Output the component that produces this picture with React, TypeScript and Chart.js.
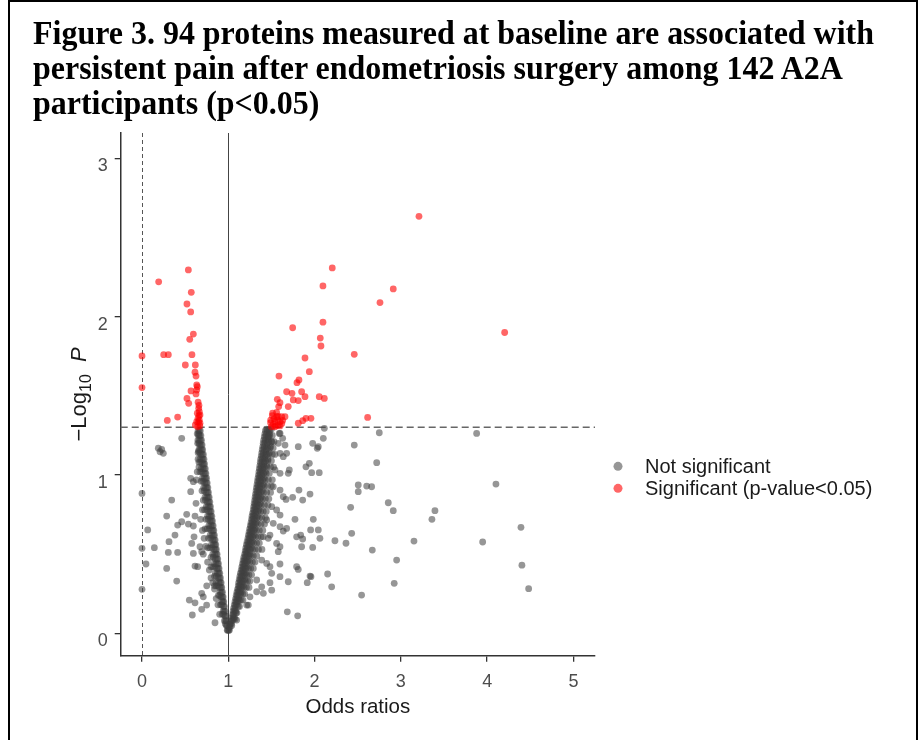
import React, { useEffect, useRef } from 'react';
import { Chart, registerables } from 'chart.js';

Chart.register(...registerables);

// ---------- text ----------
const titleLines = [
  'Figure 3. 94 proteins measured at baseline are associated with',
  'persistent pain after endometriosis surgery among 142 A2A',
  'participants (p<0.05)',
];
const xLabel = 'Odds ratios';
const legendLabels = ['Not significant', 'Significant (p-value<0.05)'];
const xTicks = [0, 1, 2, 3, 4, 5];
const yTicks = [0, 1, 2, 3];
const pThreshold = 0.05;
const orNull = 1;
const orZero = 0;

// ---------- data: [odds ratio, -log10 p] ----------
const sigLeft: [number, number][] = [
  [0.537, 2.295], [0.193, 2.22], [0.571, 2.154], [0.521, 2.08], [0.564, 2.03], [0.595, 1.89],
  [0.553, 1.857], [0.0, 1.752], [0.251, 1.76], [0.305, 1.76], [0.579, 1.76], [0.502, 1.695],
  [0.618, 1.695], [0.614, 1.649], [0.626, 1.625], [0.634, 1.569], [0.641, 1.558], [0.634, 1.537],
  [0.568, 1.531], [0.0, 1.552], [0.626, 1.512], [0.521, 1.484], [0.541, 1.453], [0.657, 1.421],
  [0.664, 1.40], [0.641, 1.39], [0.672, 1.379], [0.649, 1.358], [0.664, 1.347], [0.634, 1.337],
  [0.672, 1.327], [0.618, 1.316], [0.293, 1.345], [0.413, 1.366], [0.66, 1.44], [0.65, 1.46],
  [0.67, 1.31], [0.645, 1.305], [0.66, 1.375], [0.655, 1.335],
];
const sigRight: [number, number][] = [
  [3.21, 2.634], [2.205, 2.308], [2.097, 2.194], [2.912, 2.175], [2.758, 2.089], [4.203, 1.90],
  [2.097, 1.965], [1.746, 1.93], [2.066, 1.865], [2.074, 1.815], [2.46, 1.762], [1.889, 1.739],
  [1.939, 1.653], [1.587, 1.625], [1.819, 1.60], [1.796, 1.583], [1.676, 1.526], [1.738, 1.516],
  [1.85, 1.526], [1.889, 1.495], [2.054, 1.495], [2.113, 1.484], [1.753, 1.474], [1.811, 1.47],
  [1.568, 1.478], [1.599, 1.457], [1.584, 1.432], [1.695, 1.432], [1.514, 1.39], [1.561, 1.368],
  [1.491, 1.347], [1.619, 1.368], [1.657, 1.368], [1.541, 1.337], [1.599, 1.337], [1.579, 1.316],
  [1.811, 1.327], [1.862, 1.343], [1.90, 1.358], [1.958, 1.358], [2.615, 1.364], [1.50, 1.305],
  [1.52, 1.32], [1.55, 1.31], [1.53, 1.355], [1.57, 1.35], [1.60, 1.31], [1.62, 1.325],
  [1.49, 1.33], [1.51, 1.375], [1.56, 1.395], [1.63, 1.345], [1.54, 1.305], [1.58, 1.37],
];

// dense left arm of the V: [-log10 p, [odds ratios...]]
const leftArmRows: [number, number[]][] = [
  [0.02, [0.995, 0.988]], [0.05, [0.986, 0.978]], [0.08, [0.978, 0.968, 0.955]],
  [0.11, [0.97, 0.961]], [0.14, [0.963, 0.952, 0.94]], [0.17, [0.955, 0.945]],
  [0.20, [0.947, 0.937, 0.925]], [0.23, [0.94, 0.93, 0.915]], [0.26, [0.932, 0.921, 0.905]],
  [0.29, [0.924, 0.914, 0.898]], [0.32, [0.917, 0.906, 0.89, 0.86]], [0.35, [0.909, 0.898, 0.882]],
  [0.38, [0.901, 0.89, 0.874, 0.85]], [0.41, [0.893, 0.882, 0.866]], [0.44, [0.886, 0.875, 0.858, 0.835]],
  [0.47, [0.878, 0.867, 0.85]], [0.50, [0.87, 0.859, 0.842, 0.82]], [0.53, [0.862, 0.851, 0.835]],
  [0.56, [0.855, 0.844, 0.827, 0.805]], [0.59, [0.847, 0.836, 0.819]], [0.62, [0.839, 0.828, 0.811, 0.79]],
  [0.65, [0.832, 0.821, 0.804]], [0.68, [0.824, 0.813, 0.796, 0.775]], [0.71, [0.816, 0.805, 0.788]],
  [0.74, [0.809, 0.797, 0.78, 0.76]], [0.77, [0.801, 0.79, 0.773]], [0.80, [0.793, 0.782, 0.765, 0.745]],
  [0.83, [0.786, 0.774, 0.757]], [0.86, [0.778, 0.767, 0.75, 0.73]], [0.89, [0.77, 0.759, 0.742]],
  [0.92, [0.763, 0.751, 0.735, 0.715]], [0.95, [0.755, 0.744, 0.727]], [0.98, [0.748, 0.736, 0.72, 0.70]],
  [1.01, [0.74, 0.729, 0.712]], [1.04, [0.733, 0.721, 0.705, 0.685]], [1.07, [0.725, 0.714, 0.698]],
  [1.10, [0.718, 0.706, 0.69, 0.672]], [1.13, [0.711, 0.699, 0.683]], [1.16, [0.703, 0.692, 0.676, 0.66]],
  [1.19, [0.696, 0.685, 0.669]], [1.22, [0.689, 0.677, 0.662, 0.648]], [1.25, [0.682, 0.67, 0.656]],
  [1.28, [0.675, 0.664, 0.65]],
];
const leftArmOuterRows: [number, number[]][] = [
  [0.06, [0.965]], [0.12, [0.945, 0.93]], [0.18, [0.925, 0.91]], [0.24, [0.90, 0.885]],
  [0.30, [0.88, 0.86, 0.84]], [0.36, [0.86, 0.84]], [0.42, [0.845, 0.82, 0.80]], [0.48, [0.825, 0.80]],
  [0.54, [0.81, 0.785, 0.76]], [0.60, [0.795, 0.77]], [0.66, [0.78, 0.755, 0.73]], [0.72, [0.765, 0.74]],
  [0.78, [0.75, 0.725, 0.70]], [0.84, [0.735, 0.71]], [0.90, [0.72, 0.695]], [0.96, [0.705, 0.685]],
  [1.02, [0.69, 0.67]], [1.08, [0.68, 0.66]], [1.14, [0.67, 0.65]], [1.20, [0.66]], [1.26, [0.655]],
];

// dense right arm of the V
const rightArmRows: [number, number[]][] = [
  [0.02, [1.005, 1.012]], [0.04, [1.01, 1.02]], [0.06, [1.024, 1.035, 1.015]], [0.08, [1.03, 1.045]],
  [0.10, [1.042, 1.055, 1.07]], [0.12, [1.05, 1.062]], [0.14, [1.055, 1.07, 1.085]], [0.16, [1.062, 1.078]],
  [0.18, [1.07, 1.085, 1.10]], [0.20, [1.078, 1.092, 1.108]], [0.22, [1.085, 1.10, 1.12]],
  [0.24, [1.092, 1.106, 1.125]], [0.26, [1.10, 1.113, 1.13, 1.15]], [0.28, [1.108, 1.12, 1.14]],
  [0.30, [1.116, 1.13, 1.148, 1.17]], [0.32, [1.12, 1.136, 1.155]], [0.34, [1.127, 1.142, 1.16, 1.19]],
  [0.36, [1.134, 1.15, 1.17]], [0.38, [1.141, 1.157, 1.175, 1.20]], [0.40, [1.15, 1.165, 1.183]],
  [0.42, [1.157, 1.172, 1.19, 1.215]], [0.44, [1.165, 1.18, 1.198]], [0.46, [1.172, 1.187, 1.205, 1.23]],
  [0.48, [1.18, 1.195, 1.215]], [0.50, [1.19, 1.205, 1.222, 1.25]], [0.52, [1.196, 1.21, 1.23]],
  [0.54, [1.203, 1.22, 1.24, 1.27]], [0.56, [1.21, 1.227, 1.247]], [0.58, [1.218, 1.235, 1.255, 1.28]],
  [0.60, [1.228, 1.243, 1.262]], [0.62, [1.234, 1.25, 1.27, 1.30]], [0.64, [1.241, 1.256, 1.276]],
  [0.66, [1.248, 1.264, 1.285, 1.31]], [0.68, [1.256, 1.27, 1.29]], [0.70, [1.263, 1.278, 1.298, 1.325]],
  [0.72, [1.27, 1.285, 1.305]], [0.74, [1.275, 1.29, 1.31, 1.34]], [0.76, [1.282, 1.297, 1.318]],
  [0.78, [1.29, 1.305, 1.325, 1.355]], [0.80, [1.295, 1.31, 1.33]], [0.82, [1.30, 1.316, 1.338, 1.37]],
  [0.84, [1.306, 1.322, 1.345]], [0.86, [1.311, 1.328, 1.35, 1.38]], [0.88, [1.316, 1.333, 1.356]],
  [0.90, [1.322, 1.338, 1.36, 1.395]], [0.92, [1.327, 1.344, 1.366]], [0.94, [1.333, 1.35, 1.372, 1.405]],
  [0.96, [1.338, 1.355, 1.378]], [0.98, [1.344, 1.36, 1.384, 1.415]], [1.00, [1.35, 1.366, 1.39]],
  [1.02, [1.355, 1.372, 1.396, 1.43]], [1.04, [1.36, 1.378, 1.402]], [1.06, [1.366, 1.384, 1.41, 1.445]],
  [1.08, [1.371, 1.39, 1.416]], [1.10, [1.376, 1.395, 1.422, 1.46]], [1.12, [1.382, 1.40, 1.428]],
  [1.14, [1.388, 1.406, 1.435, 1.475]], [1.16, [1.393, 1.412, 1.44]], [1.18, [1.40, 1.418, 1.447, 1.49]],
  [1.20, [1.405, 1.424, 1.453]], [1.22, [1.41, 1.43, 1.46]], [1.24, [1.417, 1.436, 1.466]],
  [1.26, [1.424, 1.443, 1.475]], [1.28, [1.43, 1.45, 1.48]],
];
const rightArmOuterRows: [number, number[]][] = [
  [0.05, [1.04]], [0.09, [1.06, 1.08]], [0.13, [1.09, 1.10]], [0.17, [1.115, 1.13]],
  [0.21, [1.13, 1.15, 1.17]], [0.25, [1.145, 1.17, 1.19]], [0.29, [1.16, 1.185, 1.21, 1.24]],
  [0.33, [1.175, 1.20, 1.225, 1.25]], [0.37, [1.19, 1.215, 1.24, 1.27]], [0.41, [1.205, 1.235, 1.26, 1.29]],
  [0.45, [1.22, 1.25, 1.28, 1.31]], [0.49, [1.24, 1.265, 1.29, 1.33]], [0.53, [1.255, 1.285, 1.31, 1.35, 1.39]],
  [0.57, [1.27, 1.30, 1.33, 1.36]], [0.61, [1.285, 1.315, 1.345, 1.38]], [0.65, [1.30, 1.33, 1.36, 1.40]],
  [0.69, [1.315, 1.345, 1.38, 1.42]], [0.73, [1.33, 1.36, 1.39, 1.43]], [0.77, [1.345, 1.375, 1.405, 1.44]],
  [0.81, [1.355, 1.385, 1.42, 1.46]], [0.85, [1.37, 1.40, 1.43, 1.47]], [0.89, [1.38, 1.41, 1.445, 1.49]],
  [0.93, [1.39, 1.42, 1.455, 1.50]], [0.97, [1.40, 1.43, 1.465, 1.51]], [1.01, [1.41, 1.44, 1.475]],
  [1.05, [1.42, 1.45, 1.49, 1.525]], [1.09, [1.435, 1.46, 1.50]], [1.13, [1.445, 1.47, 1.51, 1.54]],
  [1.17, [1.46, 1.485, 1.52]], [1.21, [1.47, 1.50, 1.53]], [1.25, [1.48, 1.51]], [1.29, [1.47, 1.50]],
];

const grayLeftScatter: [number, number][] = [
  [0.46, 1.232], [0.189, 1.169], [0.228, 1.162], [0.247, 1.137], [0.209, 1.147], [0.564, 0.979],
  [0.595, 0.958], [0.564, 0.895], [0.0, 0.884], [0.344, 0.842], [0.626, 0.821], [0.286, 0.741],
  [0.518, 0.752], [0.614, 0.741], [0.46, 0.705], [0.413, 0.684], [0.537, 0.69], [0.595, 0.678],
  [0.066, 0.653], [0.382, 0.621], [0.603, 0.61], [0.313, 0.579], [0.576, 0.568], [0.143, 0.541],
  [0.0, 0.537], [0.305, 0.511], [0.413, 0.511], [0.595, 0.505], [0.672, 0.547], [0.692, 0.516],
  [0.046, 0.438], [0.286, 0.41], [0.614, 0.425], [0.645, 0.421], [0.402, 0.33], [0.0, 0.278],
  [0.548, 0.21], [0.614, 0.193], [0.692, 0.253], [0.71, 0.231], [0.749, 0.179], [0.692, 0.152],
  [0.583, 0.116], [0.846, 0.067], [0.66, 1.05], [0.65, 1.10], [0.64, 1.02], [0.63, 0.97],
  [0.72, 0.60], [0.74, 0.55], [0.76, 0.45], [0.78, 0.40], [0.80, 0.35], [0.82, 0.32], [0.84, 0.28],
  [0.70, 0.65], [0.68, 0.72], [0.71, 0.50], [0.75, 0.30], [0.86, 0.22], [0.88, 0.18], [0.90, 0.12],
  [0.645, 1.20], [0.64, 1.26], [0.655, 1.15],
];

const grayRightNear: [number, number][] = [
  [1.657, 1.189], [1.60, 1.137], [1.637, 1.116], [1.541, 1.032], [1.60, 1.011], [1.521, 0.926],
  [1.60, 0.905], [1.637, 0.863], [1.503, 0.80], [1.56, 0.779], [1.60, 0.747], [1.445, 0.716],
  [1.521, 0.695], [1.60, 0.674], [1.406, 0.61], [1.463, 0.60], [1.483, 0.621], [1.387, 0.463],
  [1.445, 0.442], [1.483, 0.421], [1.503, 0.379], [1.329, 0.337], [1.387, 0.294], [1.406, 0.253],
  [1.329, 0.263], [1.251, 0.231], [1.213, 0.179], [1.097, 0.084], [1.591, 1.263], [1.63, 1.232],
  [1.579, 1.20], [1.445, 1.289], [1.463, 1.242], [1.503, 1.21], [1.676, 1.137], [1.56, 0.568],
  [1.599, 0.547], [1.579, 0.516], [1.232, 0.179], [1.503, 0.273], [1.483, 0.32], [1.60, 1.263],
];

const grayRightFar: [number, number][] = [
  [1.811, 1.179], [1.978, 1.20], [2.043, 1.179], [2.031, 1.169], [2.101, 1.232], [2.113, 1.295],
  [2.46, 1.189], [2.72, 1.078], [1.90, 1.052], [1.939, 1.074], [1.966, 1.015], [2.054, 1.015],
  [1.707, 1.032], [1.695, 1.011], [1.819, 0.905], [1.947, 0.88], [1.862, 0.842], [1.746, 0.859],
  [1.669, 0.846], [2.506, 0.937], [2.506, 0.895], [2.604, 0.93], [2.661, 0.926], [2.418, 0.796],
  [1.773, 0.72], [1.985, 0.72], [1.676, 0.663], [1.637, 0.646], [1.954, 0.653], [2.043, 0.653],
  [1.792, 0.61], [1.839, 0.621], [1.862, 0.596], [2.062, 0.60], [2.43, 0.632], [2.236, 0.585],
  [2.364, 0.569], [1.978, 0.543], [1.85, 0.547], [2.669, 0.526], [1.599, 0.438], [1.792, 0.421],
  [1.811, 0.404], [1.599, 0.358], [1.947, 0.362], [1.915, 0.32], [2.151, 0.375], [2.198, 0.294],
  [1.695, 0.326], [2.545, 0.242], [1.684, 0.136], [1.804, 0.111], [2.75, 1.267], [3.878, 1.263],
  [4.102, 0.943], [2.854, 0.825], [2.912, 0.775], [3.395, 0.775], [3.36, 0.72], [4.392, 0.67],
  [3.152, 0.583], [3.948, 0.577], [2.951, 0.463], [4.403, 0.431], [2.923, 0.316], [4.481, 0.282],
  [1.958, 0.358],
];

// ---------- styles ----------
const SANS = '"Liberation Sans", Arial, sans-serif';
const GRAY = 'rgba(64,64,64,0.55)';
const RED = 'rgba(255,0,0,0.6)';

const toPts = (arr: [number, number][]) => arr.map(([x, y]) => ({ x, y }));
const rowsToPts = (rows: [number, number[]][]) =>
  rows.flatMap(([y, xs]) => xs.map((x) => ({ x, y })));

const refLinesPlugin = {
  id: 'refLines',
  beforeDatasetsDraw(chart: any) {
    const { ctx, chartArea: a, scales } = chart;
    const xs = scales.x, ys = scales.y;
    ctx.save();
    ctx.strokeStyle = '#555';
    ctx.lineWidth = 1;
    ctx.setLineDash([4, 3]);
    const x0 = Math.round(xs.getPixelForValue(orZero)) + 0.5;
    ctx.beginPath(); ctx.moveTo(x0, a.top); ctx.lineTo(x0, a.bottom); ctx.stroke();
    ctx.setLineDash([]);
    ctx.strokeStyle = '#444';
    const x1 = Math.round(xs.getPixelForValue(orNull)) + 0.5;
    ctx.beginPath(); ctx.moveTo(x1, a.top); ctx.lineTo(x1, a.bottom); ctx.stroke();
    ctx.strokeStyle = '#666';
    ctx.lineWidth = 1.5;
    ctx.setLineDash([7, 4]);
    const yh = ys.getPixelForValue(-Math.log10(pThreshold));
    ctx.beginPath(); ctx.moveTo(a.left, yh); ctx.lineTo(a.right, yh); ctx.stroke();
    ctx.restore();
  },
};

const decorPlugin = {
  id: 'decor',
  afterDraw(chart: any) {
    const { ctx, chartArea: a } = chart;
    ctx.save();
    const cx = a.left - 43;
    const cy = (a.top + a.bottom) / 2;
    ctx.translate(cx, cy);
    ctx.rotate(-Math.PI / 2);
    ctx.fillStyle = '#1a1a1a';
    ctx.textBaseline = 'alphabetic';
    const parts = [
      { t: '\u2212Log', f: `22px ${SANS}`, dy: 0 },
      { t: '10', f: `16px ${SANS}`, dy: 5 },
      { t: '  ', f: `22px ${SANS}`, dy: 0 },
      { t: 'P', f: `italic 22px ${SANS}`, dy: 0 },
    ];
    let total = 0;
    const widths = parts.map((p) => { ctx.font = p.f; const w = ctx.measureText(p.t).width; total += w; return w; });
    let u = -total / 2;
    parts.forEach((p, i) => { ctx.font = p.f; ctx.fillText(p.t, u, 8 + p.dy); u += widths[i]; });
    ctx.restore();

    ctx.save();
    const lx = a.right + 23;
    const ly = (a.top + a.bottom) / 2 + 72;
    const colors = [GRAY, RED];
    legendLabels.forEach((lab, i) => {
      const y = ly + i * 22;
      ctx.fillStyle = colors[i];
      ctx.beginPath(); ctx.arc(lx, y, 4.5, 0, Math.PI * 2); ctx.fill();
      ctx.fillStyle = '#1a1a1a';
      ctx.font = `20px ${SANS}`;
      ctx.textBaseline = 'middle';
      ctx.fillText(lab, lx + 27, y + 1);
    });
    ctx.restore();
  },
};

function VolcanoChart() {
  const ref = useRef<HTMLCanvasElement | null>(null);
  useEffect(() => {
    if (!ref.current) return;
    const grayPts = [
      ...rowsToPts(leftArmRows),
      ...rowsToPts(leftArmOuterRows),
      ...rowsToPts(rightArmRows),
      ...rowsToPts(rightArmOuterRows),
      ...toPts(grayLeftScatter),
      ...toPts(grayRightNear),
      ...toPts(grayRightFar),
    ];
    const redPts = [...toPts(sigLeft), ...toPts(sigRight)];
    const chart = new Chart(ref.current, {
      type: 'scatter',
      data: {
        datasets: [
          {
            label: legendLabels[1], data: redPts, backgroundColor: RED, borderWidth: 0,
            pointRadius: 3.4, order: 0,
          },
          {
            label: legendLabels[0], data: grayPts, backgroundColor: GRAY, borderWidth: 0,
            pointRadius: 3.4, order: 1,
          },
        ],
      },
      options: {
        responsive: false,
        animation: false,
        devicePixelRatio: 1,
        events: [],
        layout: { padding: { left: 80.7, right: 329, top: 133, bottom: 0 } },
        plugins: { legend: { display: false }, tooltip: { enabled: false } },
        scales: {
          x: {
            type: 'linear',
            min: -0.247,
            max: 5.25,
            afterBuildTicks: (s: any) => { s.ticks = xTicks.map((v) => ({ value: v })); },
            afterFit: (s: any) => { s.height = 84.3; },
            grid: { drawOnChartArea: false, drawTicks: true, tickLength: 6, color: '#333', lineWidth: 1.3 },
            border: { display: true, color: '#333', width: 1.5 },
            ticks: { color: '#4d4d4d', font: { family: SANS, size: 18 }, padding: 10 },
            title: {
              display: true, text: xLabel, color: '#1a1a1a',
              font: { family: SANS, size: 20.5 }, padding: { top: 0, bottom: 20 },
            },
          },
          y: {
            type: 'linear',
            min: -0.141,
            max: 3.16,
            afterBuildTicks: (s: any) => { s.ticks = yTicks.map((v) => ({ value: v })); },
            afterFit: (s: any) => { s.width = 40; },
            grid: { drawOnChartArea: false, drawTicks: true, tickLength: 6, color: '#333', lineWidth: 1.3 },
            border: { display: true, color: '#333', width: 1.5 },
            ticks: { color: '#4d4d4d', font: { family: SANS, size: 18 }, padding: 7, labelOffset: 8 },
          },
        },
      } as any,
      plugins: [refLinesPlugin, decorPlugin],
    });
    return () => chart.destroy();
  }, []);
  return (
    <canvas
      ref={ref}
      width={924}
      height={740}
      style={{ position: 'absolute', left: 0, top: 0, width: 924, height: 740 }}
    />
  );
}

export default function App() {
  return (
    <div>
      <VolcanoChart />
      <div
        style={{
          position: 'absolute', left: 8, top: 0, width: 910, height: 740,
          borderTop: '2px solid #000', borderLeft: '2px solid #000', borderRight: '2px solid #000',
          boxSizing: 'border-box', pointerEvents: 'none',
        }}
      >
        <div
          style={{
            position: 'absolute', left: 23, top: 13,
            fontFamily: '"Liberation Serif", "Times New Roman", serif', fontWeight: 'bold',
            fontSize: 34, lineHeight: '35px', color: '#000', whiteSpace: 'nowrap',
            transform: 'scaleX(0.94)', transformOrigin: '0 0',
          }}
        >
          {titleLines.map((l, i) => (
            <div key={i}>{l}</div>
          ))}
        </div>
      </div>
    </div>
  );
}
